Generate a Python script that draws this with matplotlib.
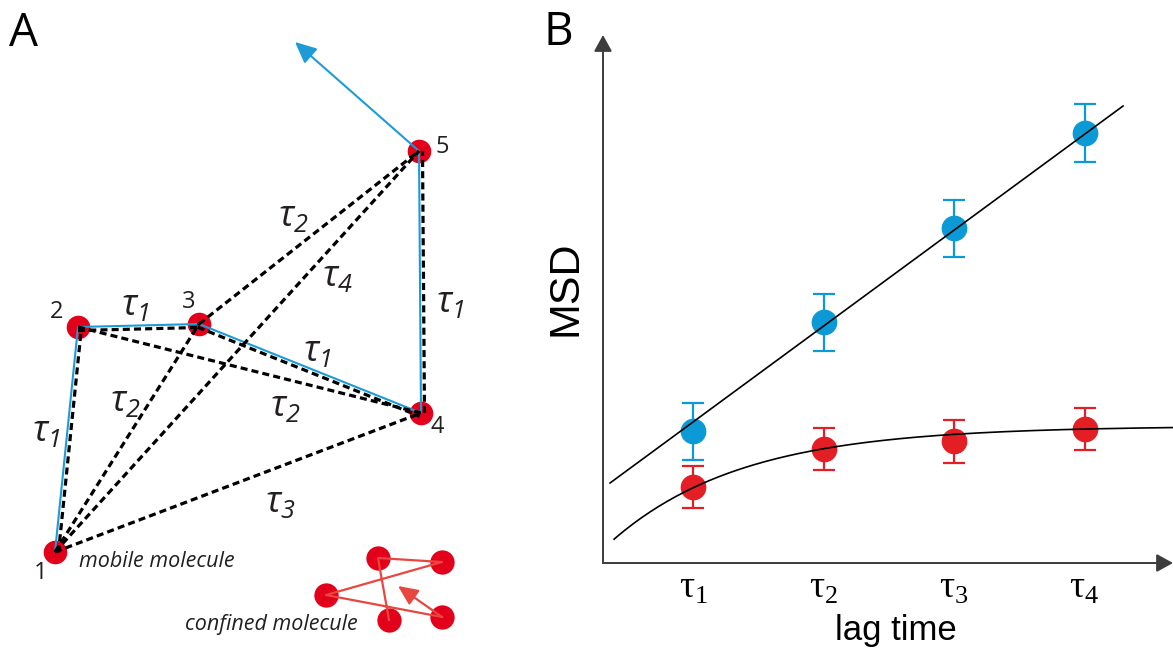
import numpy as np
import matplotlib
matplotlib.use("Agg")
import matplotlib.pyplot as plt
from matplotlib import font_manager as fm

W, H, DPI = 1173, 649, 100

# ---------------- Panel A: single-particle track (pixel space) ----------------
track_x = [55, 78, 199, 421, 419]
track_y = [552, 327, 324, 413, 151]
track_ids = ["1", "2", "3", "4", "5"]
exit_tip = (295, 42)

# displacement pairs and their lag order
lag_pairs = [(0, 1), (1, 2), (2, 3), (3, 4), (0, 2), (1, 3), (2, 4), (0, 3), (0, 4)]
lag_orders = [1, 1, 1, 1, 2, 2, 2, 3, 4]

# where the lag labels sit
lag_label_xy = [(46, 432), (135, 306), (317, 352), (450, 303),
                (125, 402), (285, 407), (293, 217), (280, 503), (338, 277)]
lag_label_order = [1, 1, 1, 1, 2, 2, 2, 3, 4]
id_offsets = [(-14, 21), (-21, -15), (-10, -22), (16, 14), (23, -4)]

# confined molecule track
conf_x = [389, 378, 442, 326, 442]
conf_y = [620, 558, 562, 595, 617]
conf_tip = (398, 586)

# ---------------- Panel B: MSD vs lag time ----------------
tau = [1, 2, 3, 4]
tau_labels = [r"$\mathrm{\tau}_{1}$", r"$\mathrm{\tau}_{2}$",
              r"$\mathrm{\tau}_{3}$", r"$\mathrm{\tau}_{4}$"]
mobile_msd = [1.32, 2.41, 3.35, 4.30]
mobile_err = [0.285, 0.285, 0.285, 0.29]
confined_msd = [0.76, 1.14, 1.22, 1.34]
confined_err = [0.21, 0.21, 0.215, 0.21]

# free diffusion: MSD = a + b*t ; confined: MSD = P - Q*exp(-t/k)
free_a, free_b = 0.451, 0.959
conf_P, conf_Q, conf_k = 1.37, 1.68, 1.0

RED_DOT = "#e2001a"
BLUE_LINE = "#1d9bd7"
CONF_LINE = "#e8473f"
B_BLUE = "#0b9ad6"
B_RED = "#e31e24"
TEXT = "#231f20"


def pick_family(cands, style="normal"):
    have = {(f.name, f.style) for f in fm.fontManager.ttflist}
    for c in cands:
        if (c, style) in have:
            return c
    return "DejaVu Sans"


sans_reg = pick_family(["Open Sans", "Noto Sans", "Lato", "DejaVu Sans"])
sans_it = pick_family(["Open Sans", "Noto Sans", "Lato", "DejaVu Sans"], "italic")

plt.rcParams["mathtext.fontset"] = "custom"
plt.rcParams["mathtext.rm"] = "Liberation Serif"
plt.rcParams["mathtext.sf"] = f"{sans_it}:italic"

fig = plt.figure(figsize=(W / DPI, H / DPI), dpi=DPI)
fig.patch.set_facecolor("white")

axA = fig.add_axes([0, 0, 1, 1])
axA.set_xlim(0, W)
axA.set_ylim(H, 0)
axA.axis("off")
axA.patch.set_alpha(0)

# red positions
axA.plot(track_x, track_y, "o", ms=17, color=RED_DOT, mew=0, zorder=2)

# blue trajectory and exit arrow
axA.plot(track_x, track_y, "-", color=BLUE_LINE, lw=1.5, zorder=3,
         solid_capstyle="butt")
axA.annotate("", xy=exit_tip, xytext=(track_x[-1], track_y[-1]),
             arrowprops=dict(arrowstyle="-|>,head_length=1.3,head_width=0.6",
                             mutation_scale=10, color=BLUE_LINE, lw=1.5,
                             shrinkA=0, shrinkB=0), zorder=3)

# dashed displacements
for (i, j), order in zip(lag_pairs, lag_orders):
    x0, y0, x1, y1 = track_x[i], track_y[i], track_x[j], track_y[j]
    if order == 1:
        dx, dy = x1 - x0, y1 - y0
        n = np.hypot(dx, dy)
        ox, oy = -dy / n * 3.5, dx / n * 3.5
        x0, x1, y0, y1 = x0 + ox, x1 + ox, y0 + oy, y1 + oy
    axA.plot([x0, x1], [y0, y1], color="black", lw=2.3,
             linestyle=(0, (2.2, 1.3)), zorder=4)

for (lx, ly), order in zip(lag_label_xy, lag_label_order):
    axA.text(lx, ly, r"$\mathsf{\tau}_{\mathsf{%d}}$" % order, fontsize=26,
             ha="center", va="center", color=TEXT, zorder=5)

for k, (ox, oy) in enumerate(id_offsets):
    axA.text(track_x[k] + ox, track_y[k] + oy, track_ids[k], fontsize=17,
             family=sans_reg, ha="center", va="center", color=TEXT)

axA.text(79, 567, "mobile molecule", fontsize=15.5, family=sans_it,
         style="italic", ha="left", va="baseline", color=TEXT)

# confined molecule
axA.plot(conf_x, conf_y, "o", ms=17.5, color=RED_DOT, mew=0, zorder=2)
axA.plot(conf_x, conf_y, "-", color=CONF_LINE, lw=1.6, zorder=3)
axA.annotate("", xy=conf_tip, xytext=(conf_x[-1], conf_y[-1]),
             arrowprops=dict(arrowstyle="-|>,head_length=1.2,head_width=0.55",
                             mutation_scale=10, color=CONF_LINE, lw=1.6,
                             shrinkA=0, shrinkB=0), zorder=3)
axA.text(185, 630, "confined molecule", fontsize=15.5, family=sans_it,
         style="italic", ha="left", va="baseline", color=TEXT)

axA.text(9, 46, "A", fontsize=33, family=sans_reg, ha="left",
         va="baseline", color="black")
axA.text(543, 45, "B", fontsize=33, family=sans_reg, ha="left",
         va="baseline", color="black")

# ---------------- Panel B ----------------
left, right, top, bottom = 603, 1173, 35, 563
axB = fig.add_axes([left / W, (H - bottom) / H, (right - left) / W,
                    (bottom - top) / H])
axB.patch.set_alpha(0)
axB.set_xlim(0.310, 4.678)
axB.set_ylim(0, 5.28)
for s in axB.spines.values():
    s.set_visible(False)

arrow_kw = dict(arrowstyle="-|>,head_length=1.0,head_width=0.55",
                mutation_scale=10, color="#3c3c3c", lw=1.4,
                shrinkA=0, shrinkB=0)
axB.annotate("", xy=(0, 1), xytext=(0, 0), xycoords="axes fraction",
             textcoords="axes fraction", arrowprops=arrow_kw,
             annotation_clip=False)
axB.annotate("", xy=(1, 0), xytext=(0, 0), xycoords="axes fraction",
             textcoords="axes fraction", arrowprops=arrow_kw,
             annotation_clip=False)

axB.errorbar(tau, mobile_msd, yerr=mobile_err, fmt="o", ms=17.5, color=B_BLUE,
             ecolor=B_BLUE, elinewidth=1.6, capsize=8, capthick=1.6, zorder=3)
axB.errorbar(tau, confined_msd, yerr=confined_err, fmt="o", ms=17.5,
             color=B_RED, ecolor=B_RED, elinewidth=1.6, capsize=8,
             capthick=1.6, zorder=3)

t_free = np.linspace(0.364, 4.295, 50)
axB.plot(t_free, free_a + free_b * t_free, color="black", lw=1.2, zorder=4)
t_conf = np.linspace(0.395, 4.678, 200)
axB.plot(t_conf, conf_P - conf_Q * np.exp(-t_conf / conf_k), color="black",
         lw=1.2, zorder=4, clip_on=False)

axB.set_xticks(tau)
axB.set_xticklabels(tau_labels, fontsize=27, color="black")
axB.tick_params(axis="x", length=0, pad=5)
axB.set_yticks([])

fig.text(566 / W, 1 - 288 / H, "MSD", rotation=90, fontsize=31,
         family="Liberation Sans", ha="center", va="center", color="black")
fig.text(835 / W, 1 - 640 / H, "lag time", fontsize=25,
         family="Liberation Sans", ha="left", va="baseline", color="black")

fig.savefig("out.png", dpi=DPI)
